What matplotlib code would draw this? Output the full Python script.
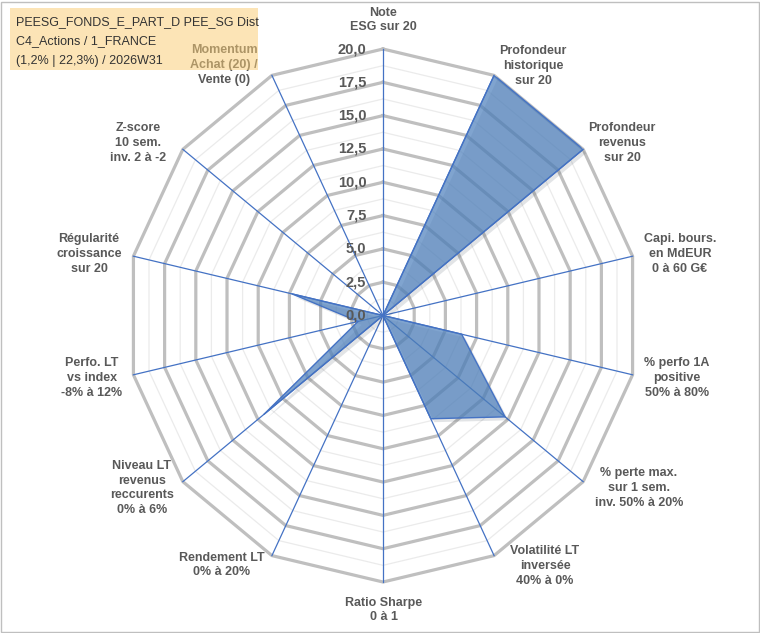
import numpy as np
import matplotlib
matplotlib.use('Agg')
import matplotlib.pyplot as plt
import matplotlib.patheffects as pe
from matplotlib.patches import Rectangle

plt.rcParams['font.family'] = ['Liberation Sans', 'DejaVu Sans']

###DATA###
criteres = ['Note\nESG sur 20',
            'Profondeur\nhistorique\nsur 20',
            'Profondeur\nrevenus\nsur 20',
            'Capi. bours.\nen MdEUR\n0 à 60 G€',
            '% perfo 1A\npositive\n50% à 80%',
            '% perte max.\nsur 1 sem.\ninv. 50% à 20%',
            'Volatilité LT\ninversée\n40% à 0%',
            'Ratio Sharpe\n0 à 1',
            'Rendement LT\n0% à 20%',
            'Niveau LT\nrevenus\nreccurents\n0% à 6%',
            'Perfo. LT\nvs index\n-8% à 12%',
            'Régularité\ncroissance\nsur 20',
            'Z-score\n10 sem.\ninv. 2 à -2',
            'Momentum\nAchat (20) /\nVente (0)']
valeurs = [0, 20, 20, 0, 6.3, 12.2, 8.6, 0, 0, 11.9, 2.0, 7.3, 0, 0]
graduations = [0, 2.5, 5, 7.5, 10, 12.5, 15, 17.5, 20]
etiquettes = ['0,0', '2,5', '5,0', '7,5', '10,0', '12,5', '15,0', '17,5', '20,0']
titre = ['PEESG_FONDS_E_PART_D PEE_SG Dist', 'C4_Actions / 1_FRANCE', '(1,2% | 22,3%) / 2026W31']

#centre of each axis label, in pixels of the 760x633 picture
pos_labels = [(383, 20), (533, 66), (622, 143), (680, 254), (677, 378), (639, 488),
              (545, 566), (384, 610), (222, 565), (142, 488), (92, 378), (89, 254),
              (138, 143), (224, 65)]

W, H = 760, 633
n = len(criteres)
angles = np.arange(n) * 2 * np.pi / n
angles_c = np.append(angles, angles[0])

fig = plt.figure(figsize=(W / 100, H / 100), dpi=100)
fig.patch.set_facecolor('white')

#radar area: centre (383,315.5), radius 256 px wide, 266.5 px high
cx, cy, rx, ry = 383, 315.5, 256, 266.5
ax = fig.add_axes([(cx - rx) / W, 1 - (cy + ry) / H, 2 * rx / W, 2 * ry / H], projection='polar')
ax.set_aspect('auto')
ax.set_theta_zero_location('N')
ax.set_theta_direction(-1)
ax.set_ylim(0, 20)
ax.grid(False)
ax.set_xticks([])
ax.set_yticks([])
ax.spines['polar'].set_visible(False)
ax.patch.set_alpha(0)

#polygon gridlines: light minor ones, grey major ones
for r in np.arange(1.25, 20.01, 1.25):
    if r % 2.5 == 0:
        ax.plot(angles_c, [r] * (n + 1), color='#BFBFBF', lw=2.3, zorder=1, clip_on=False)
    else:
        ax.plot(angles_c, [r] * (n + 1), color='#EBEBEB', lw=0.9, zorder=0.5, clip_on=False)

#spokes
for a in angles:
    ax.plot([a, a], [0, 20], color='#4472C4', lw=0.9, zorder=2, clip_on=False)

#data
v_c = valeurs + valeurs[:1]
ombre = [pe.SimplePatchShadow(offset=(2.5, -2.5), alpha=0.12), pe.Normal()]
poly = ax.fill(angles_c, v_c, color='#4F81BD', alpha=0.72, zorder=3, lw=0)[0]
poly.set_path_effects(ombre)
ax.plot(angles_c, v_c, color='#4472C4', lw=1, zorder=4)

#graduations on the top axis
for r, t in zip(graduations, etiquettes):
    ax.annotate(t, xy=(0, r), xytext=(-12, 0), textcoords='offset points', ha='right', va='center',
                fontsize=10.5, fontweight='bold', color='#595959', zorder=5, annotation_clip=False)

#axis labels
for lab, (x, y) in zip(criteres, pos_labels):
    fig.text(x / W, 1 - y / H, lab, ha='center', va='center', fontsize=9, fontweight='bold',
             color='#595959', linespacing=1.3, multialignment='center')

#title box (partly covers the Momentum label)
fig.patches.append(Rectangle((10 / W, 1 - 70 / H), 248 / W, 62 / H, transform=fig.transFigure,
                             facecolor='#FACC73', alpha=0.52, edgecolor='none', zorder=5))
for i, t in enumerate(titre):
    fig.text(16 / W, 1 - (22 + i * 19.5) / H, t, ha='left', va='center', fontsize=9,
             color='#333333', zorder=6)

#chart border
fig.patches.append(Rectangle((0.5 / W, 1.5 / H), 758 / W, 630 / H, transform=fig.transFigure,
                             facecolor='none', edgecolor='#BFBFBF', lw=1))

fig.savefig('out.png', dpi=100)
